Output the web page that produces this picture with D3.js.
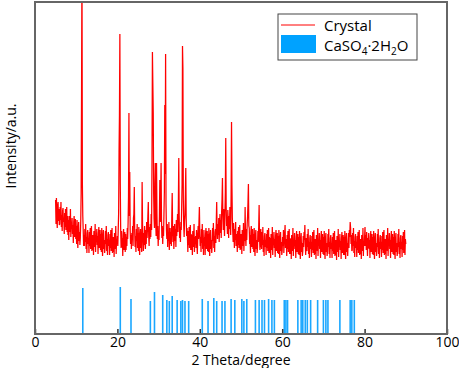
<!DOCTYPE html>
<meta charset="utf-8">
<head>
    <style>
        body { margin: 0; background: #fff; }
        text { font-family: "Open Sans", sans-serif; fill: #000; }
    </style>
    <script src="https://d3js.org/d3.v7.min.js"></script>
</head>
<body></body>
<script>

    // measured pattern: 2theta from 5 to 90 deg, step 0.1 (one row per degree)
    var thetaStart = 5, thetaStep = 0.1;
    var crystal = [
        134,110,136,117,106,128,132,113,125,109,
        110,127,114,132,107,119,103,123,126,112,
        115,100,121,107,125,104,113,127,102,118,
        99,114,94,118,110,102,125,97,112,107,
        116,100,109,91,112,118,97,102,115,95,
        108,90,114,97,86,105,112,93,102,89,
        96,112,141,242,375,150,118,104,88,99,
        88,105,92,110,85,97,81,101,104,90,
        96,81,102,88,106,85,94,108,83,99,
        84,99,79,103,95,87,110,82,97,92,
        105,89,98,80,101,107,86,91,104,84,
        100,82,106,89,78,97,104,85,94,81,
        86,103,90,108,83,95,79,99,102,88,
        94,79,100,86,104,83,92,106,81,97,
        82,97,77,101,93,85,108,80,95,90,
        98,88,104,121,182,219,300,150,103,86,
        103,87,96,78,99,105,84,89,102,82,
        100,84,97,88,106,95,112,138,221,118,
        162,104,90,99,85,101,94,108,88,116,
        120,147,102,87,98,82,105,93,110,86,
        101,83,107,90,79,98,105,86,95,82,
        152,110,94,83,101,89,108,92,85,104,
        90,112,96,105,118,132,98,88,107,95,
        110,97,120,104,175,282,251,221,140,115,
        106,150,171,112,98,171,120,95,108,88,
        103,94,118,154,112,130,171,115,96,108,
        90,106,98,120,142,229,160,280,130,104,
        95,110,87,101,93,112,84,99,106,90,
        102,88,116,141,104,92,108,85,97,110,
        93,105,87,114,98,108,120,102,130,176,
        118,96,107,92,112,104,126,150,288,266,
        135,108,97,112,120,140,166,115,98,106,
        97,82,103,89,107,86,95,109,84,100,
        84,99,79,103,95,87,110,82,97,92,
        98,86,104,90,80,97,108,95,112,127,
        100,88,97,82,105,91,110,85,96,79,
        104,88,97,79,100,106,85,90,103,83,
        100,82,106,89,78,97,104,85,94,81,
        89,106,93,111,86,98,82,102,105,91,
        112,132,104,95,110,99,116,92,107,120,
        101,114,96,122,135,156,118,104,125,110,
        98,120,142,196,128,108,117,100,124,112,
        96,118,105,127,110,99,140,212,149,116,
        102,92,111,98,86,105,94,112,88,100,
        97,82,103,89,107,86,95,109,84,100,
        85,100,80,104,96,88,111,83,98,93,
        127,98,88,105,94,110,118,132,150,108,
        106,90,99,81,102,108,87,92,105,85,
        100,82,106,89,78,97,104,85,94,81,
        86,103,92,108,129,97,84,99,105,89,
        85,102,89,107,82,94,78,98,101,87,
        94,79,100,86,104,83,92,106,81,97,
        81,96,76,100,92,84,107,79,94,89,
        102,86,95,77,98,104,83,88,101,81,
        98,80,104,87,76,95,102,83,92,79,
        84,97,88,104,81,93,100,109,86,95,
        93,78,99,85,103,82,91,105,80,96,
        80,95,75,99,91,83,106,78,93,88,
        101,85,94,76,97,103,82,87,100,80,
        97,79,103,86,75,94,101,82,91,78,
        83,98,87,102,94,109,90,79,96,85,
        83,100,87,105,80,92,76,96,99,85,
        92,77,98,84,102,81,90,104,79,95,
        80,95,75,99,91,83,106,78,93,88,
        101,85,94,76,97,103,82,87,100,80,
        97,79,103,86,75,94,101,82,91,78,
        83,100,87,105,80,92,76,96,99,85,
        91,76,97,83,101,80,89,103,78,94,
        79,94,74,98,90,82,105,77,92,87,
        100,84,93,75,96,102,81,86,99,79,
        97,79,103,86,75,94,101,82,91,78,
        92,101,86,104,97,112,106,90,99,83,
        84,101,88,106,81,93,77,97,100,86,
        92,77,98,84,102,81,90,104,79,95,
        80,95,75,99,91,83,106,78,93,88,
        97,107,88,99,84,102,91,78,96,86,
        101,85,94,76,97,103,82,87,100,80,
        97,79,103,86,75,94,101,82,91,78,
        83,100,87,105,80,92,76,96,99,85,
        92,77,98,84,102,81,90,104,79,95,
        80,95,75,99,91,83,106,78,93,88,
        101,85,94,76,97,103,82,87,100,80,
        97,79,103,86,75,94,101,82,91,78,
        83,100,87,105,80,92,76,96,99,85,
        92,77,98,84,102,81,90,104,79,95,
        90
    ];

    // reference card lines for CaSO4.2H2O
    var refTheta = [11.6, 20.7, 23.3, 28.0, 29.0, 31.0, 32.0, 32.6, 33.3, 34.5, 35.4, 35.8, 36.4, 37.3,
        40.6, 42.0, 43.4, 44.1, 45.4, 46.1, 47.6, 48.5, 50.2, 50.7, 51.4, 53.5, 54.4, 55.1, 55.7,
        56.7, 57.5, 58.1, 60.5, 60.9, 61.3, 63.8, 64.6, 65.0, 65.6, 66.1, 66.9, 68.6, 70.0, 70.6,
        71.1, 74.0, 76.5, 76.9, 77.5];
    var refHeight = [46, 47, 35, 33, 42, 39, 34, 33, 38, 34, 33, 34, 33, 33,
        35, 33, 36, 33, 33, 33, 35, 34, 35, 33, 35, 34, 34, 34, 34,
        35, 34, 34, 34, 34, 34, 34, 34, 34, 34, 34, 34, 34, 34, 34,
        34, 34, 34, 34, 34];

    var xTicks = [0, 20, 40, 60, 80, 100];
    var legendNames = ["Crystal", "CaSO4·2H2O"];

    var width = 459, height = 368;
    var plotL = 35, plotR = 447, plotT = 2, plotB = 334;

    var x = d3.scaleLinear().domain([0, 100]).range([plotL, plotR]);
    var y = d3.scaleLinear().domain([0, 332]).range([plotB, plotT]);

    var svg = d3.select("body").append("svg")
        .attr("width", width)
        .attr("height", height);

    svg.append("clipPath").attr("id", "plot")
      .append("rect")
        .attr("x", plotL).attr("y", plotT)
        .attr("width", plotR - plotL).attr("height", plotB - plotT);

    var points = crystal.map(function(v, i) { return [thetaStart + i * thetaStep, v]; });

    var line = d3.line()
        .x(function(d) { return x(d[0]); })
        .y(function(d) { return y(d[1]); });

    svg.append("path")
        .datum(points)
        .attr("clip-path", "url(#plot)")
        .attr("d", line)
        .attr("fill", "none")
        .attr("stroke", "#ff0000")
        .attr("stroke-width", 1.25);

    svg.selectAll(".stick")
      .data(refTheta)
      .enter().append("line")
        .attr("class", "stick")
        .attr("x1", function(d) { return x(d); })
        .attr("x2", function(d) { return x(d); })
        .attr("y1", y(0))
        .attr("y2", function(d, i) { return y(refHeight[i]); })
        .attr("stroke", "#1aa7ff")
        .attr("stroke-width", 1.6);

    // bottom axis, ticks pointing inward
    var xAxis = d3.axisBottom(x)
        .tickValues(xTicks)
        .tickSizeInner(-5)
        .tickSizeOuter(0)
        .tickPadding(3);

    var gx = svg.append("g")
        .attr("transform", "translate(0," + plotB + ")")
        .call(xAxis);
    gx.select(".domain").remove();
    gx.selectAll("line").attr("stroke", "#333").attr("stroke-width", 1.5);
    gx.selectAll("text").style("font-size", "14px").attr("fill", "#000")
        .style("font-family", "'Open Sans', sans-serif");

    // frame
    svg.append("rect")
        .attr("x", plotL).attr("y", plotT)
        .attr("width", plotR - plotL).attr("height", plotB - plotT)
        .attr("fill", "none")
        .attr("stroke", "#666")
        .attr("stroke-width", 2);

    svg.append("text")
        .attr("x", (plotL + plotR) / 2)
        .attr("y", 365)
        .attr("text-anchor", "middle")
        .style("font-size", "14px")
        .text("2 Theta/degree");

    svg.append("text")
        .attr("transform", "translate(16,146) rotate(-90)")
        .attr("text-anchor", "middle")
        .style("font-size", "14px")
        .text("Intensity/a.u.");

    // legend
    var lg = svg.append("g").attr("transform", "translate(278,14)");
    lg.append("rect")
        .attr("width", 139).attr("height", 46)
        .attr("fill", "#fff")
        .attr("stroke", "#444")
        .attr("stroke-width", 1);
    lg.append("line")
        .attr("x1", 3).attr("x2", 37).attr("y1", 11).attr("y2", 11)
        .attr("stroke", "#ff0000").attr("stroke-width", 1);
    lg.append("rect")
        .attr("x", 3).attr("y", 21).attr("width", 35).attr("height", 18)
        .attr("fill", "#00a2ff");
    lg.append("text")
        .attr("x", 46).attr("y", 17)
        .style("font-size", "15px")
        .text(legendNames[0]);

    var t2 = lg.append("text")
        .attr("x", 46).attr("y", 37)
        .style("font-size", "15px");
    t2.append("tspan").text("CaSO");
    t2.append("tspan").attr("dy", 4).style("font-size", "10px").text("4");
    t2.append("tspan").attr("dy", -4).text("·2H");
    t2.append("tspan").attr("dy", 4).style("font-size", "10px").text("2");
    t2.append("tspan").attr("dy", -4).text("O");

</script>
